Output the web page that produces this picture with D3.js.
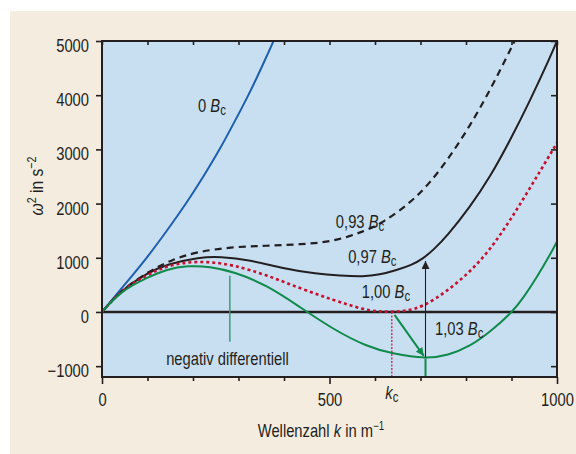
<!DOCTYPE html>
<html>
<head>
<meta charset="utf-8">
<script src="https://cdn.jsdelivr.net/npm/d3@7"></script>
<style>
  html, body { margin: 0; padding: 0; background: #fff; }
  svg { display: block; }
  text { font-family: "Liberation Sans", Arial, sans-serif; fill: #231f20; }
</style>
</head>
<body>
<svg id="chart" width="576" height="454"></svg>
<script>
// wave number k (1/m) and omega^2 (1/s^2), one pair of arrays per field strength
var k000 = [0, 50, 99, 142, 185, 222, 259, 290, 322, 350, 377];
var w000 = [0, 505, 1000, 1490, 2000, 2485, 3000, 3490, 4000, 4495, 5000];

var k093 = [0, 42, 105, 152, 208, 289, 362, 435, 508, 574, 618, 677, 721, 765, 809, 853, 907];
var w093 = [0, 400, 760, 959, 1111, 1203, 1221, 1247, 1295, 1480, 1650, 2010, 2380, 2870, 3440, 4090, 5000];

var k097 = [0, 42, 100, 142, 215, 259, 325, 398, 472, 523, 574, 610, 648, 680, 706, 730, 757, 809, 853, 897, 941, 985, 1000];
var w097 = [0, 400, 720, 880, 1010, 1022, 960, 804, 700, 670, 652, 685, 775, 865, 985, 1160, 1387, 1939, 2492, 3168, 3904, 4702, 5000];

var k100 = [0, 42, 101, 142, 189, 237, 289, 362, 435, 508, 574, 605, 637, 670, 706, 757, 809, 853, 897, 941, 985, 1000];
var w100 = [0, 400, 690, 850, 922, 928, 866, 682, 436, 221, 45, 12, 0, 22, 98, 374, 740, 1150, 1690, 2290, 2910, 3120];

var k103 = [0, 42, 101, 142, 189, 237, 289, 362, 435, 508, 582, 640, 713, 760, 809, 853, 902, 926, 955, 985, 1000];
var w103 = [0, 390, 640, 790, 855, 838, 743, 497, 90, -320, -640, -775, -862, -805, -633, -369, 0, 260, 630, 1060, 1300];

var kc = 637;        // critical wave number
var kMin = 711;      // k at minimum of 1,03 Bc curve

var xTicks = [0, 100, 200, 300, 400, 500, 600, 700, 800, 900, 1000];
var xLabels = [0, 500, 1000];
var yTicks = [-1000, 0, 1000, 2000, 3000, 4000, 5000];

(function () {
var svg = d3.select("#chart");
var pLeft = 102, pRight = 557, pTop = 41, pBottom = 377;
var ink = "#231f20";
var sx = 0.82;  // horizontal squeeze to mimic the condensed face

var x = d3.scaleLinear().domain([0, 1000]).range([pLeft, pRight]);
var y = d3.scaleLinear().domain([-1200, 5000]).range([pBottom, pTop]);

// background panels
svg.append("rect").attr("x", 10).attr("y", 11).attr("width", 566).attr("height", 443).attr("fill", "#f5ece0");
svg.append("rect").attr("x", pLeft).attr("y", pTop).attr("width", pRight - pLeft).attr("height", pBottom - pTop).attr("fill", "#c8dff2");

var defs = svg.append("defs");
defs.append("clipPath").attr("id", "plot").append("rect")
    .attr("x", pLeft).attr("y", pTop).attr("width", pRight - pLeft).attr("height", pBottom - pTop);

var g = svg.append("g").attr("clip-path", "url(#plot)");

// zero line
g.append("line").attr("x1", x(0)).attr("x2", x(1000)).attr("y1", y(0)).attr("y2", y(0))
    .attr("stroke", ink).attr("stroke-width", 2.6);

var line = d3.line().x(function (d) { return x(d[0]); }).y(function (d) { return y(d[1]); })
    .curve(d3.curveBasis);

function pairs(ks, ws) { return ks.map(function (k, i) { return [k, ws[i]]; }); }

var curves = [
    { pts: pairs(k000, w000), color: "#1d5fae", width: 2, dash: null },
    { pts: pairs(k093, w093), color: ink, width: 2.2, dash: "7,5" },
    { pts: pairs(k097, w097), color: ink, width: 2, dash: null },
    { pts: pairs(k100, w100), color: "#c8102e", width: 2.6, dash: "3,3" },
    { pts: pairs(k103, w103), color: "#0f8a4a", width: 2, dash: null }
];

g.selectAll("path.curve").data(curves).enter().append("path")
    .attr("class", "curve")
    .attr("d", function (d) { return line(d.pts); })
    .attr("fill", "none")
    .attr("stroke", function (d) { return d.color; })
    .attr("stroke-width", function (d) { return d.width; })
    .attr("stroke-dasharray", function (d) { return d.dash; });

// arrow heads
function arrowHead(id, color) {
    defs.append("marker").attr("id", id).attr("viewBox", "0 0 10 10")
        .attr("refX", 10).attr("refY", 5).attr("markerWidth", 10).attr("markerHeight", 8)
        .attr("markerUnits", "userSpaceOnUse").attr("orient", "auto")
        .append("path").attr("d", "M0,0 L10,5 L0,10 z").attr("fill", color);
}
arrowHead("arrBlack", ink);
arrowHead("arrGreen", "#0f8a4a");

// kc dotted line
g.append("line").attr("x1", x(kc)).attr("x2", x(kc)).attr("y1", y(0)).attr("y2", y(-1200))
    .attr("stroke", "#c8102e").attr("stroke-width", 1.2).attr("stroke-dasharray", "2,1.5");
// green drop to axis at minimum
g.append("line").attr("x1", x(kMin)).attr("x2", x(kMin)).attr("y1", y(-860)).attr("y2", y(-1200))
    .attr("stroke", "#0f8a4a").attr("stroke-width", 2);
// black arrow up to 0,97 curve
g.append("line").attr("x1", x(kMin)).attr("x2", x(kMin)).attr("y1", y(-840)).attr("y2", y(940))
    .attr("stroke", ink).attr("stroke-width", 1.1).attr("marker-end", "url(#arrBlack)");
// green arrow from kc down to minimum
g.append("line").attr("x1", x(643)).attr("x2", x(707)).attr("y1", y(-55)).attr("y2", y(-810))
    .attr("stroke", "#0f8a4a").attr("stroke-width", 2).attr("marker-end", "url(#arrGreen)");
// pointer for negative differential region
g.append("line").attr("x1", x(281)).attr("x2", x(281)).attr("y1", y(670)).attr("y2", y(-548))
    .attr("stroke", "#2e9a6e").attr("stroke-width", 1.4);

// frame
svg.append("rect").attr("x", pLeft).attr("y", pTop).attr("width", pRight - pLeft).attr("height", pBottom - pTop)
    .attr("fill", "none").attr("stroke", ink).attr("stroke-width", 2);

// axes
var fs = 18;
var ax = svg.append("g").attr("transform", "translate(0," + pBottom + ")")
    .call(d3.axisBottom(x).tickValues(xTicks).tickSizeOuter(0).tickSize(4).tickPadding(12)
        .tickFormat(function (d) { return xLabels.indexOf(d) >= 0 ? d : ""; }));
ax.selectAll(".tick line").attr("y2", function (d) { return xLabels.indexOf(d) >= 0 ? 7 : 4; });
svg.append("g").attr("transform", "translate(0," + pTop + ")")
    .call(d3.axisTop(x).tickValues(xTicks).tickSizeOuter(0).tickSize(-4).tickFormat(""));
var ay = svg.append("g").attr("transform", "translate(" + pLeft + ",0)")
    .call(d3.axisLeft(y).tickValues(yTicks).tickSizeOuter(0).tickSize(6).tickPadding(7));
svg.append("g").attr("transform", "translate(" + pRight + ",0)")
    .call(d3.axisRight(y).tickValues(yTicks).tickSizeOuter(0).tickSize(-6).tickFormat(""));

svg.selectAll(".domain").remove();
svg.selectAll(".tick line").attr("stroke", ink).attr("stroke-width", 1.6);
svg.selectAll(".tick text").attr("font-size", fs).attr("font-family", null).attr("fill", ink);
ay.selectAll(".tick text").attr("dy", "0.58em").text(function (d) { return d < 0 ? "\u2212" + Math.abs(d) : d; });

// curve labels: number, italic B, subscript c
var labels = [
    { k: 211, w: 3690, num: "0 " },
    { k: 514, w: 1550, num: "0,93 " },
    { k: 541, w: 904, num: "0,97 " },
    { k: 571, w: 258, num: "1,00 " },
    { k: 732, w: -424, num: "1,03 " }
];
labels.forEach(function (l) {
    var t = svg.append("text").attr("x", x(l.k)).attr("y", y(l.w)).attr("font-size", fs);
    t.append("tspan").text(l.num);
    t.append("tspan").attr("font-style", "italic").text("B");
    t.append("tspan").attr("font-size", 14).attr("dy", 3).text("c");
});

svg.append("text").attr("x", x(141)).attr("y", y(-978)).attr("font-size", fs).text("negativ differentiell");

// k_c under the axis
var tk = svg.append("text").attr("x", x(kc)).attr("y", 399).attr("font-size", fs).attr("text-anchor", "middle");
tk.append("tspan").attr("font-style", "italic").text("k");
tk.append("tspan").attr("font-size", 14).attr("dy", 3).text("c");

// axis titles
var tx = svg.append("text").attr("x", 321).attr("y", 437).attr("font-size", fs).attr("text-anchor", "middle");
tx.append("tspan").text("Wellenzahl ");
tx.append("tspan").attr("font-style", "italic").text("k");
tx.append("tspan").text(" in m");
tx.append("tspan").attr("font-size", 12).attr("dy", -7).text("\u22121");

var ty = svg.append("text").attr("x", 0).attr("y", 0)
    .attr("transform", "translate(43,186) rotate(-90)")
    .attr("font-size", 19).attr("text-anchor", "middle");
ty.append("tspan").attr("font-style", "italic").text("\u03c9");
ty.append("tspan").attr("font-size", 13).attr("dy", -7).text("2");
ty.append("tspan").attr("dy", 7).text(" in s");
ty.append("tspan").attr("font-size", 13).attr("dy", -7).text("\u22122");

// squeeze every text horizontally, keeping its anchor point in place
svg.selectAll("text").each(function () {
    var t = d3.select(this);
    var xv = +(t.attr("x") || 0);
    t.attr("x", xv / sx).attr("transform", (t.attr("transform") || "") + " scale(" + sx + ",1)");
});
})();
</script>
</body>
</html>
